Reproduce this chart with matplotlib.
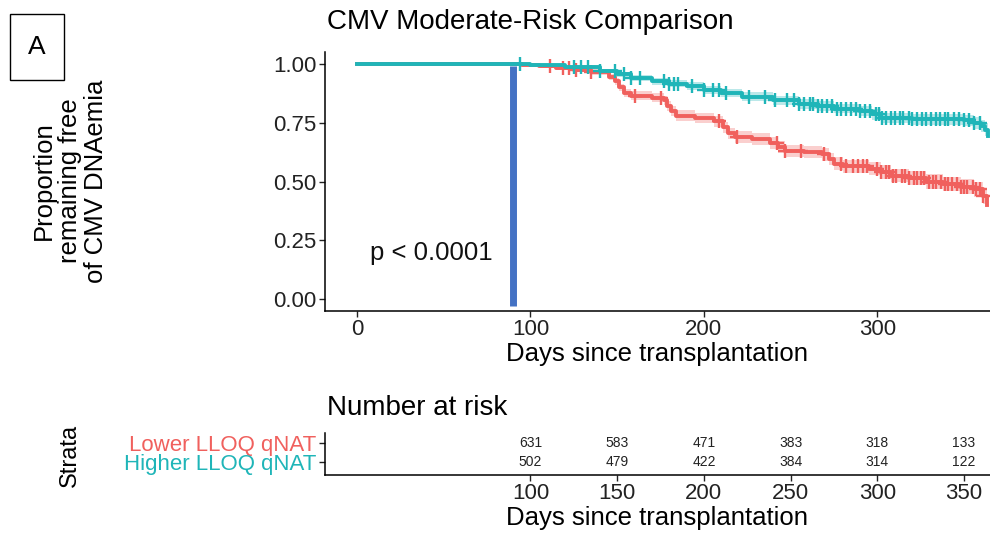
import numpy as np
import matplotlib
matplotlib.use("Agg")
import matplotlib.pyplot as plt
from matplotlib.patches import Rectangle

plt.rcParams['font.family'] = ['Liberation Sans', 'DejaVu Sans']

# ---- data ----
groups = ["Lower LLOQ qNAT", "Higher LLOQ qNAT"]
colors = ["#F0605D", "#1FB5B8"]

lower_t = [0, 95, 105, 115, 125, 135, 145, 149, 151, 154, 158, 170, 177, 179, 181, 184, 195,
           206, 211, 214, 218, 228, 238, 243, 247, 258, 268, 272, 275, 280, 295, 302,
           308, 318, 328, 338, 348, 356, 361, 363]
lower_s = [1.0, 0.995, 0.99, 0.982, 0.975, 0.965, 0.945, 0.925, 0.90, 0.875, 0.865, 0.855,
           0.845, 0.82, 0.80, 0.78, 0.77, 0.755, 0.73, 0.705, 0.69, 0.68, 0.665, 0.645, 0.63,
           0.625, 0.615, 0.595, 0.575, 0.565, 0.555, 0.54, 0.525, 0.515, 0.50, 0.49, 0.478,
           0.468, 0.44, 0.40]
lower_ci = [0.0, 0.004, 0.006, 0.008, 0.010, 0.011, 0.013, 0.014, 0.016, 0.017, 0.018, 0.019,
            0.020, 0.021, 0.022, 0.022, 0.023, 0.023, 0.024, 0.024, 0.025, 0.025, 0.025, 0.026,
            0.026, 0.026, 0.027, 0.027, 0.027, 0.028, 0.028, 0.028, 0.029, 0.029, 0.030, 0.030,
            0.031, 0.032, 0.034, 0.036]
lower_cens = [111, 119, 122, 126, 135, 160, 175, 209, 219, 242, 247, 256, 269, 279, 282, 286,
              289, 292, 294, 300, 302, 305, 307, 309, 311, 314, 316, 318, 321, 323, 325, 327,
              330, 332, 334, 337, 339, 341, 343, 346, 348, 350, 352, 355, 357, 359, 361]

higher_t = [0, 100, 120, 140, 150, 158, 170, 180, 190, 200, 210, 222, 240, 255, 265, 275,
            290, 297, 302, 320, 350, 356, 360, 362, 364]
higher_s = [1.0, 0.995, 0.985, 0.97, 0.955, 0.94, 0.925, 0.915, 0.905, 0.89, 0.875, 0.86,
            0.845, 0.83, 0.82, 0.81, 0.80, 0.785, 0.77, 0.765, 0.76, 0.75, 0.735, 0.72, 0.695]
higher_ci = [0.0, 0.004, 0.007, 0.009, 0.011, 0.013, 0.014, 0.015, 0.016, 0.017, 0.018, 0.019,
             0.020, 0.020, 0.021, 0.021, 0.022, 0.022, 0.023, 0.023, 0.024, 0.025, 0.026,
             0.027, 0.029]
higher_cens = [94, 125, 129, 133, 140, 149, 154, 158, 163, 177, 180, 183, 185, 193, 200, 205,
               209, 213, 226, 235, 241, 248, 252, 255, 258, 261, 263, 266, 268, 271, 274, 277,
               279, 282, 285, 288, 290, 293, 296, 299, 301, 303, 305, 308, 310, 313, 315, 318,
               320, 323, 326, 328, 331, 334, 336, 339, 341, 344, 347, 350, 353, 356, 359]

risk_times = [100, 150, 200, 250, 300, 350]
risk_lower = [631, 583, 471, 383, 318, 133]
risk_higher = [502, 479, 422, 384, 314, 122]

pval_text = "p < 0.0001"
landmark_day = 90

# ---- figure ----
fig = plt.figure(figsize=(9.9, 5.36), dpi=100)
W, H = 990.0, 536.0

def fx(px):
    return px / W

def fy(py):
    return 1 - py / H

ax = fig.add_axes([fx(325), fy(311), fx(990) - fx(325), fy(52) - fy(311)])
ax.set_xlim(-18.5, 365)
ax.set_ylim(-0.05, 1.05)

curves = [(lower_t, lower_s, lower_ci, lower_cens), (higher_t, higher_s, higher_ci, higher_cens)]
for (t, s, ci, cens), col in zip(curves, colors):
    t = np.array(t, dtype=float)
    s = np.array(s)
    ci = np.array(ci)
    ax.fill_between(t, s - ci, s + ci, step='post', color=col, alpha=0.3, lw=0)
    ax.step(t, s, where='post', color=col, lw=2.8)
    c = np.array(cens, dtype=float)
    idx = np.searchsorted(t, c, side='right') - 1
    ax.plot(c, s[idx], ls='none', marker='+', color=col, ms=9.5, mew=1.7)

ax.plot([landmark_day, landmark_day], [-0.028, 0.99], color="#4472C4", lw=5,
        solid_capstyle='butt', zorder=5)
ax.text(43, 0.195, pval_text, fontsize=18.5, ha='center', va='center', color='#111111')

for side in ['top', 'right']:
    ax.spines[side].set_visible(False)
for side in ['left', 'bottom']:
    ax.spines[side].set_linewidth(1.1)
ax.set_xticks([0, 100, 200, 300])
ax.set_yticks([0, 0.25, 0.5, 0.75, 1.0])
ax.set_yticklabels(["0.00", "0.25", "0.50", "0.75", "1.00"])
ax.tick_params(length=4, width=1.0, labelsize=16, pad=2, colors='#222222')
ax.set_xlabel("Days since transplantation", fontsize=18.5, labelpad=1)

fig.text(fx(327), fy(22), "CMV Moderate-Risk Comparison", fontsize=20, ha='left', va='center')
fig.text(fx(70), fy(181), "Proportion\nremaining free\nof CMV DNAemia", fontsize=18.5,
         rotation=90, ha='center', va='center', multialignment='center', linespacing=1.1)

# panel tag
fig.patches.append(Rectangle((fx(10), fy(80)), fx(64) - fx(10), fy(14) - fy(80),
                             transform=fig.transFigure, fill=False, ec='black', lw=1.0))
fig.text(fx(37), fy(47), "A", fontsize=19, ha='center', va='center')

# ---- risk table ----
tab = fig.add_axes([fx(325), fy(475), fx(990) - fx(325), fy(433) - fy(475)])
tab.set_xlim(-18.5, 365)
tab.set_ylim(0.316, 2.526)
for x, a, b in zip(risk_times, risk_lower, risk_higher):
    tab.text(x, 2, str(a), fontsize=10, ha='center', va='center', color='#222222')
    tab.text(x, 1, str(b), fontsize=10, ha='center', va='center', color='#222222')
tab.set_yticks([2, 1])
tab.set_yticklabels(groups)
tab.set_xticks(risk_times)
for side in ['top', 'right']:
    tab.spines[side].set_visible(False)
for side in ['left', 'bottom']:
    tab.spines[side].set_linewidth(1.1)
tab.tick_params(length=4, width=1.0, labelsize=16, pad=2, colors='#222222')
for lbl, col in zip(tab.get_yticklabels(), colors):
    lbl.set_color(col)
tab.set_xlabel("Days since transplantation", fontsize=18.5, labelpad=1)

fig.text(fx(327), fy(408), "Number at risk", fontsize=20, ha='left', va='center')
fig.text(fx(70), fy(455), "Strata", fontsize=17, rotation=90, ha='center', va='center')

fig.savefig("out.png", dpi=100)
